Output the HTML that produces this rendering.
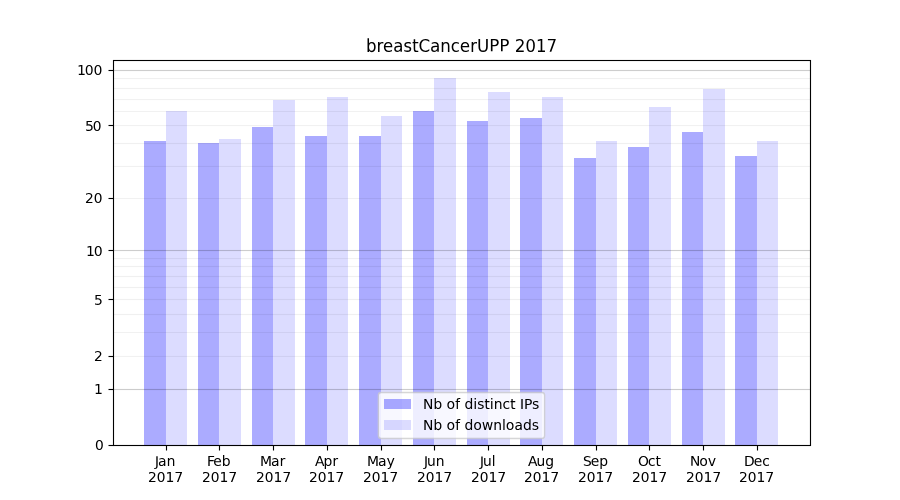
<!DOCTYPE html>
<html><head><meta charset="utf-8"><title>breastCancerUPP 2017</title>
<style>html,body{margin:0;padding:0;background:#fff;width:900px;height:500px;overflow:hidden;font-family:"Liberation Sans",sans-serif}svg{display:block}</style>
</head><body>
<svg width="900" height="500" viewBox="0 0 648 360">
<defs>
<style type="text/css">*{stroke-linejoin: round; stroke-linecap: butt}</style>
</defs>
<g id="figure_1">
<g id="patch_1">
<path d="M 0 360 L 648 360 L 648 0 L 0 0 z" style="fill: #ffffff"/>
</g>
<g id="axes_1">
<g id="patch_2">
<path d="M 81.36 320.4 L 583.2 320.4 L 583.2 43.2 L 81.36 43.2 z" style="fill: #ffffff"/>
</g>
<g id="patch_3">
<path d="M 103.68 320.4 L 119.52 320.4 L 119.52 101.52 L 103.68 101.52 z" clip-path="url(#p42fd4cc68e)" style="fill: #0000ff; opacity: 0.33"/>
</g>
<g id="patch_4">
<path d="M 142.56 320.4 L 157.68 320.4 L 157.68 102.96 L 142.56 102.96 z" clip-path="url(#p42fd4cc68e)" style="fill: #0000ff; opacity: 0.33"/>
</g>
<g id="patch_5">
<path d="M 181.44 320.4 L 196.56 320.4 L 196.56 91.44 L 181.44 91.44 z" clip-path="url(#p42fd4cc68e)" style="fill: #0000ff; opacity: 0.33"/>
</g>
<g id="patch_6">
<path d="M 219.6 320.4 L 235.44 320.4 L 235.44 97.92 L 219.6 97.92 z" clip-path="url(#p42fd4cc68e)" style="fill: #0000ff; opacity: 0.33"/>
</g>
<g id="patch_7">
<path d="M 258.48 320.4 L 274.32 320.4 L 274.32 97.92 L 258.48 97.92 z" clip-path="url(#p42fd4cc68e)" style="fill: #0000ff; opacity: 0.33"/>
</g>
<g id="patch_8">
<path d="M 297.36 320.4 L 312.48 320.4 L 312.48 79.92 L 297.36 79.92 z" clip-path="url(#p42fd4cc68e)" style="fill: #0000ff; opacity: 0.33"/>
</g>
<g id="patch_9">
<path d="M 336.24 320.4 L 351.36 320.4 L 351.36 87.12 L 336.24 87.12 z" clip-path="url(#p42fd4cc68e)" style="fill: #0000ff; opacity: 0.33"/>
</g>
<g id="patch_10">
<path d="M 374.4 320.4 L 390.24 320.4 L 390.24 84.96 L 374.4 84.96 z" clip-path="url(#p42fd4cc68e)" style="fill: #0000ff; opacity: 0.33"/>
</g>
<g id="patch_11">
<path d="M 413.28 320.4 L 429.12 320.4 L 429.12 113.76 L 413.28 113.76 z" clip-path="url(#p42fd4cc68e)" style="fill: #0000ff; opacity: 0.33"/>
</g>
<g id="patch_12">
<path d="M 452.16 320.4 L 467.28 320.4 L 467.28 105.84 L 452.16 105.84 z" clip-path="url(#p42fd4cc68e)" style="fill: #0000ff; opacity: 0.33"/>
</g>
<g id="patch_13">
<path d="M 491.04 320.4 L 506.16 320.4 L 506.16 95.04 L 491.04 95.04 z" clip-path="url(#p42fd4cc68e)" style="fill: #0000ff; opacity: 0.33"/>
</g>
<g id="patch_14">
<path d="M 529.2 320.4 L 545.04 320.4 L 545.04 112.32 L 529.2 112.32 z" clip-path="url(#p42fd4cc68e)" style="fill: #0000ff; opacity: 0.33"/>
</g>
<g id="patch_15">
<path d="M 119.52 320.4 L 134.64 320.4 L 134.64 79.92 L 119.52 79.92 z" clip-path="url(#p42fd4cc68e)" style="fill: #0000ff; opacity: 0.1373"/>
</g>
<g id="patch_16">
<path d="M 157.68 320.4 L 173.52 320.4 L 173.52 100.08 L 157.68 100.08 z" clip-path="url(#p42fd4cc68e)" style="fill: #0000ff; opacity: 0.1373"/>
</g>
<g id="patch_17">
<path d="M 196.56 320.4 L 212.4 320.4 L 212.4 72 L 196.56 72 z" clip-path="url(#p42fd4cc68e)" style="fill: #0000ff; opacity: 0.1373"/>
</g>
<g id="patch_18">
<path d="M 235.44 320.4 L 250.56 320.4 L 250.56 69.84 L 235.44 69.84 z" clip-path="url(#p42fd4cc68e)" style="fill: #0000ff; opacity: 0.1373"/>
</g>
<g id="patch_19">
<path d="M 274.32 320.4 L 289.44 320.4 L 289.44 83.52 L 274.32 83.52 z" clip-path="url(#p42fd4cc68e)" style="fill: #0000ff; opacity: 0.1373"/>
</g>
<g id="patch_20">
<path d="M 312.48 320.4 L 328.32 320.4 L 328.32 56.16 L 312.48 56.16 z" clip-path="url(#p42fd4cc68e)" style="fill: #0000ff; opacity: 0.1373"/>
</g>
<g id="patch_21">
<path d="M 351.36 320.4 L 367.2 320.4 L 367.2 66.24 L 351.36 66.24 z" clip-path="url(#p42fd4cc68e)" style="fill: #0000ff; opacity: 0.1373"/>
</g>
<g id="patch_22">
<path d="M 390.24 320.4 L 405.36 320.4 L 405.36 69.84 L 390.24 69.84 z" clip-path="url(#p42fd4cc68e)" style="fill: #0000ff; opacity: 0.1373"/>
</g>
<g id="patch_23">
<path d="M 429.12 320.4 L 444.24 320.4 L 444.24 101.52 L 429.12 101.52 z" clip-path="url(#p42fd4cc68e)" style="fill: #0000ff; opacity: 0.1373"/>
</g>
<g id="patch_24">
<path d="M 467.28 320.4 L 483.12 320.4 L 483.12 77.04 L 467.28 77.04 z" clip-path="url(#p42fd4cc68e)" style="fill: #0000ff; opacity: 0.1373"/>
</g>
<g id="patch_25">
<path d="M 506.16 320.4 L 522 320.4 L 522 64.08 L 506.16 64.08 z" clip-path="url(#p42fd4cc68e)" style="fill: #0000ff; opacity: 0.1373"/>
</g>
<g id="patch_26">
<path d="M 545.04 320.4 L 560.16 320.4 L 560.16 101.52 L 545.04 101.52 z" clip-path="url(#p42fd4cc68e)" style="fill: #0000ff; opacity: 0.1373"/>
</g>
<g id="matplotlib.axis_1">
<g id="xtick_1">
<g id="line2d_1">
<defs>
<path id="m2740763886" d="M 0 0 L 0 3.6" style="stroke: #000000; stroke-width: 0.72"/>
</defs>
<g>
<use href="#m2740763886" x="119.88" y="320.76" style="stroke: #000000; stroke-width: 0.8"/>
<use href="#m2740763886" x="120.6" y="320.76" opacity="0.0556"/>
<use href="#m2740763886" x="119.16" y="320.76" opacity="0.0556"/>
</g>
</g>
<g id="text_1">
<g transform="translate(110.875577 335.538438) scale(0.1 -0.1)">
<defs>
<path id="DejaVuSans-4a" d="M 628 4666 
L 1259 4666 
L 1259 325 
Q 1259 -519 939 -900 
Q 619 -1281 -91 -1281 
L -331 -1281 
L -331 -750 
L -134 -750 
Q 284 -750 456 -515 
Q 628 -281 628 325 
L 628 4666 
z
" transform="scale(0.015625)"/>
<path id="DejaVuSans-61" d="M 2194 1759 
Q 1497 1759 1228 1600 
Q 959 1441 959 1056 
Q 959 750 1161 570 
Q 1363 391 1709 391 
Q 2188 391 2477 730 
Q 2766 1069 2766 1631 
L 2766 1759 
L 2194 1759 
z
M 3341 1997 
L 3341 0 
L 2766 0 
L 2766 531 
Q 2569 213 2275 61 
Q 1981 -91 1556 -91 
Q 1019 -91 701 211 
Q 384 513 384 1019 
Q 384 1609 779 1909 
Q 1175 2209 1959 2209 
L 2766 2209 
L 2766 2266 
Q 2766 2663 2505 2880 
Q 2244 3097 1772 3097 
Q 1472 3097 1187 3025 
Q 903 2953 641 2809 
L 641 3341 
Q 956 3463 1253 3523 
Q 1550 3584 1831 3584 
Q 2591 3584 2966 3190 
Q 3341 2797 3341 1997 
z
" transform="scale(0.015625)"/>
<path id="DejaVuSans-6e" d="M 3513 2113 
L 3513 0 
L 2938 0 
L 2938 2094 
Q 2938 2591 2744 2837 
Q 2550 3084 2163 3084 
Q 1697 3084 1428 2787 
Q 1159 2491 1159 1978 
L 1159 0 
L 581 0 
L 581 3500 
L 1159 3500 
L 1159 2956 
Q 1366 3272 1645 3428 
Q 1925 3584 2291 3584 
Q 2894 3584 3203 3211 
Q 3513 2838 3513 2113 
z
" transform="scale(0.015625)"/>
</defs>
<use href="#DejaVuSans-4a" transform="translate(6.75 -2.25) scale(1 0.985)"/>
<use href="#DejaVuSans-61" transform="translate(29.2672 0.9) scale(1 1.0113)"/>
<use href="#DejaVuSans-6e" transform="translate(90.9965 0.9) scale(1 1.0263)"/>
</g>
<g transform="translate(106.39839 347.09625) scale(0.1 -0.1)">
<defs>
<path id="DejaVuSans-32" d="M 1228 531 
L 3431 531 
L 3431 0 
L 469 0 
L 469 531 
Q 828 903 1448 1529 
Q 2069 2156 2228 2338 
Q 2531 2678 2651 2914 
Q 2772 3150 2772 3378 
Q 2772 3750 2511 3984 
Q 2250 4219 1831 4219 
Q 1534 4219 1204 4116 
Q 875 4013 500 3803 
L 500 4441 
Q 881 4594 1212 4672 
Q 1544 4750 1819 4750 
Q 2544 4750 2975 4387 
Q 3406 4025 3406 3419 
Q 3406 3131 3298 2873 
Q 3191 2616 2906 2266 
Q 2828 2175 2409 1742 
Q 1991 1309 1228 531 
z
" transform="scale(0.015625)"/>
<path id="DejaVuSans-30" d="M 2034 4250 
Q 1547 4250 1301 3770 
Q 1056 3291 1056 2328 
Q 1056 1369 1301 889 
Q 1547 409 2034 409 
Q 2525 409 2770 889 
Q 3016 1369 3016 2328 
Q 3016 3291 2770 3770 
Q 2525 4250 2034 4250 
z
M 2034 4750 
Q 2819 4750 3233 4129 
Q 3647 3509 3647 2328 
Q 3647 1150 3233 529 
Q 2819 -91 2034 -91 
Q 1250 -91 836 529 
Q 422 1150 422 2328 
Q 422 3509 836 4129 
Q 1250 4750 2034 4750 
z
" transform="scale(0.015625)"/>
<path id="DejaVuSans-31" d="M 794 531 
L 1825 531 
L 1825 4091 
L 703 3866 
L 703 4441 
L 1819 4666 
L 2450 4666 
L 2450 531 
L 3481 531 
L 3481 0 
L 794 0 
L 794 531 
z
" transform="scale(0.015625)"/>
<path id="DejaVuSans-37" d="M 525 4666 
L 3525 4666 
L 3525 4397 
L 1831 0 
L 1172 0 
L 2766 4134 
L 525 4134 
L 525 4666 
z
" transform="scale(0.015625)"/>
</defs>
<use href="#DejaVuSans-32" transform="translate(1.35 -0.225) scale(1 0.985)"/>
<use href="#DejaVuSans-30" transform="translate(64.073 1.8) scale(1 0.9625)"/>
<use href="#DejaVuSans-31" transform="translate(127.9211 1.35) scale(1 0.9662)"/>
<use href="#DejaVuSans-37" transform="translate(191.5441 1.35) scale(1 0.9775)"/>
</g>
</g>
</g>
<g id="xtick_2">
<g id="line2d_2">
<g>
<use href="#m2740763886" x="158.04" y="320.76" style="stroke: #000000; stroke-width: 0.8"/>
<use href="#m2740763886" x="158.76" y="320.76" opacity="0.0556"/>
<use href="#m2740763886" x="157.32" y="320.76" opacity="0.0556"/>
</g>
</g>
<g id="text_2">
<g transform="translate(148.24212 335.358438) scale(0.1 -0.1)">
<defs>
<path id="DejaVuSans-46" d="M 628 4666 
L 3309 4666 
L 3309 4134 
L 1259 4134 
L 1259 2759 
L 3109 2759 
L 3109 2228 
L 1259 2228 
L 1259 0 
L 628 0 
L 628 4666 
z
" transform="scale(0.015625)"/>
<path id="DejaVuSans-65" d="M 3597 1894 
L 3597 1613 
L 953 1613 
Q 991 1019 1311 708 
Q 1631 397 2203 397 
Q 2534 397 2845 478 
Q 3156 559 3463 722 
L 3463 178 
Q 3153 47 2828 -22 
Q 2503 -91 2169 -91 
Q 1331 -91 842 396 
Q 353 884 353 1716 
Q 353 2575 817 3079 
Q 1281 3584 2069 3584 
Q 2775 3584 3186 3129 
Q 3597 2675 3597 1894 
z
M 3022 2063 
Q 3016 2534 2758 2815 
Q 2500 3097 2075 3097 
Q 1594 3097 1305 2825 
Q 1016 2553 972 2059 
L 3022 2063 
z
" transform="scale(0.015625)"/>
<path id="DejaVuSans-62" d="M 3116 1747 
Q 3116 2381 2855 2742 
Q 2594 3103 2138 3103 
Q 1681 3103 1420 2742 
Q 1159 2381 1159 1747 
Q 1159 1113 1420 752 
Q 1681 391 2138 391 
Q 2594 391 2855 752 
Q 3116 1113 3116 1747 
z
M 1159 2969 
Q 1341 3281 1617 3432 
Q 1894 3584 2278 3584 
Q 2916 3584 3314 3078 
Q 3713 2572 3713 1747 
Q 3713 922 3314 415 
Q 2916 -91 2278 -91 
Q 1894 -91 1617 61 
Q 1341 213 1159 525 
L 1159 0 
L 581 0 
L 581 4863 
L 1159 4863 
L 1159 2969 
z
" transform="scale(0.015625)"/>
</defs>
<use href="#DejaVuSans-46" transform="translate(7.65 -1.575) scale(1 0.9925)"/>
<use href="#DejaVuSans-65" transform="translate(52.9195 -0.225) scale(1 1.0113)"/>
<use href="#DejaVuSans-62" transform="translate(114.218 -0.9) scale(1 1.0225)"/>
</g>
<g transform="translate(145.268683 347.09625) scale(0.1 -0.1)">
<use href="#DejaVuSans-32" transform="translate(1.35 -0.225) scale(1 0.985)"/>
<use href="#DejaVuSans-30" transform="translate(64.298 2.25) scale(1 0.9587)"/>
<use href="#DejaVuSans-31" transform="translate(127.9211 1.35) scale(1 0.9662)"/>
<use href="#DejaVuSans-37" transform="translate(191.5441 1.35) scale(1 0.9775)"/>
</g>
</g>
</g>
<g id="xtick_3">
<g id="line2d_3">
<g>
<use href="#m2740763886" x="196.92" y="320.76" style="stroke: #000000; stroke-width: 0.8"/>
<use href="#m2740763886" x="197.64" y="320.76" opacity="0.0556"/>
<use href="#m2740763886" x="196.2" y="320.76" opacity="0.0556"/>
</g>
</g>
<g id="text_3">
<g transform="translate(187.070382 335.358438) scale(0.1 -0.1)">
<defs>
<path id="DejaVuSans-4d" d="M 628 4666 
L 1569 4666 
L 2759 1491 
L 3956 4666 
L 4897 4666 
L 4897 0 
L 4281 0 
L 4281 4097 
L 3078 897 
L 2444 897 
L 1241 4097 
L 1241 0 
L 628 0 
L 628 4666 
z
" transform="scale(0.015625)"/>
<path id="DejaVuSans-72" d="M 2631 2963 
Q 2534 3019 2420 3045 
Q 2306 3072 2169 3072 
Q 1681 3072 1420 2755 
Q 1159 2438 1159 1844 
L 1159 0 
L 581 0 
L 581 3500 
L 1159 3500 
L 1159 2956 
Q 1341 3275 1631 3429 
Q 1922 3584 2338 3584 
Q 2397 3584 2469 3576 
Q 2541 3569 2628 3553 
L 2631 2963 
z
" transform="scale(0.015625)"/>
</defs>
<use href="#DejaVuSans-4d" transform="translate(1.35 -0.9) scale(1 0.97)"/>
<use href="#DejaVuSans-61" transform="translate(80.8793 -0.9) scale(1 1.0113)"/>
<use href="#DejaVuSans-72" transform="translate(142.6086 -2.025) scale(1 1.045)"/>
</g>
<g transform="translate(184.318975 347.09625) scale(0.1 -0.1)">
<use href="#DejaVuSans-32" transform="translate(-0.225 -0.225) scale(1 0.985)"/>
<use href="#DejaVuSans-30" transform="translate(62.498 2.475) scale(1 0.9513)"/>
<use href="#DejaVuSans-31" transform="translate(126.1211 1.35) scale(1 0.9775)"/>
<use href="#DejaVuSans-37" transform="translate(189.9691 0)"/>
</g>
</g>
</g>
<g id="xtick_4">
<g id="line2d_4">
<g>
<use href="#m2740763886" x="235.8" y="320.76" style="stroke: #000000; stroke-width: 0.8"/>
<use href="#m2740763886" x="236.52" y="320.76" opacity="0.0556"/>
<use href="#m2740763886" x="235.08" y="320.76" opacity="0.0556"/>
</g>
</g>
<g id="text_4">
<g transform="translate(226.184268 335.358438) scale(0.1 -0.1)">
<defs>
<path id="DejaVuSans-41" d="M 2188 4044 
L 1331 1722 
L 3047 1722 
L 2188 4044 
z
M 1831 4666 
L 2547 4666 
L 4325 0 
L 3669 0 
L 3244 1197 
L 1141 1197 
L 716 0 
L 50 0 
L 1831 4666 
z
" transform="scale(0.015625)"/>
<path id="DejaVuSans-70" d="M 1159 525 
L 1159 -1331 
L 581 -1331 
L 581 3500 
L 1159 3500 
L 1159 2969 
Q 1341 3281 1617 3432 
Q 1894 3584 2278 3584 
Q 2916 3584 3314 3078 
Q 3713 2572 3713 1747 
Q 3713 922 3314 415 
Q 2916 -91 2278 -91 
Q 1894 -91 1617 61 
Q 1341 213 1159 525 
z
M 3116 1747 
Q 3116 2381 2855 2742 
Q 2594 3103 2138 3103 
Q 1681 3103 1420 2742 
Q 1159 2381 1159 1747 
Q 1159 1113 1420 752 
Q 1681 391 2138 391 
Q 2594 391 2855 752 
Q 3116 1113 3116 1747 
z
" transform="scale(0.015625)"/>
</defs>
<use href="#DejaVuSans-41" transform="translate(6.075 -0.9) scale(1 0.9775)"/>
<use href="#DejaVuSans-70" transform="translate(67.2832 -0.9) scale(1 1.03)"/>
<use href="#DejaVuSans-72" transform="translate(131.4348 -2.25) scale(1 1.0525)"/>
</g>
<g transform="translate(222.469268 347.09625) scale(0.1 -0.1)">
<use href="#DejaVuSans-32" transform="translate(-0.225 -0.225) scale(1 0.985)"/>
<use href="#DejaVuSans-30" transform="translate(62.723 1.35) scale(1 0.97)"/>
<use href="#DejaVuSans-31" transform="translate(126.3461 0.9) scale(1 0.985)"/>
<use href="#DejaVuSans-37" transform="translate(189.9691 0)"/>
</g>
</g>
</g>
<g id="xtick_5">
<g id="line2d_5">
<g>
<use href="#m2740763886" x="274.68" y="320.76" style="stroke: #000000; stroke-width: 0.8"/>
<use href="#m2740763886" x="275.4" y="320.76" opacity="0.0556"/>
<use href="#m2740763886" x="273.96" y="320.76" opacity="0.0556"/>
</g>
</g>
<g id="text_5">
<g transform="translate(263.727061 335.538438) scale(0.1 -0.1)">
<defs>
<path id="DejaVuSans-79" d="M 2059 -325 
Q 1816 -950 1584 -1140 
Q 1353 -1331 966 -1331 
L 506 -1331 
L 506 -850 
L 844 -850 
Q 1081 -850 1212 -737 
Q 1344 -625 1503 -206 
L 1606 56 
L 191 3500 
L 800 3500 
L 1894 763 
L 2988 3500 
L 3597 3500 
L 2059 -325 
z
" transform="scale(0.015625)"/>
</defs>
<use href="#DejaVuSans-4d" transform="translate(5.175 0.9) scale(1 0.9662)"/>
<use href="#DejaVuSans-61" transform="translate(84.7043 0.9) scale(1 1.0113)"/>
<use href="#DejaVuSans-79" transform="translate(146.4336 0.225) scale(1 1.0375)"/>
</g>
<g transform="translate(261.339561 347.09625) scale(0.1 -0.1)">
<use href="#DejaVuSans-32" transform="translate(0 -0.225) scale(1 0.985)"/>
<use href="#DejaVuSans-30" transform="translate(62.723 1.8) scale(1 0.9625)"/>
<use href="#DejaVuSans-31" transform="translate(126.3461 0.9) scale(1 0.985)"/>
<use href="#DejaVuSans-37" transform="translate(190.4191 3.15) scale(1 0.955)"/>
</g>
</g>
</g>
<g id="xtick_6">
<g id="line2d_6">
<g>
<use href="#m2740763886" x="312.84" y="320.76" style="stroke: #000000; stroke-width: 0.8"/>
<use href="#m2740763886" x="313.56" y="320.76" opacity="0.0556"/>
<use href="#m2740763886" x="312.12" y="320.76" opacity="0.0556"/>
</g>
</g>
<g id="text_6">
<g transform="translate(304.402354 335.538438) scale(0.1 -0.1)">
<defs>
<path id="DejaVuSans-75" d="M 544 1381 
L 544 3500 
L 1119 3500 
L 1119 1403 
Q 1119 906 1312 657 
Q 1506 409 1894 409 
Q 2359 409 2629 706 
Q 2900 1003 2900 1516 
L 2900 3500 
L 3475 3500 
L 3475 0 
L 2900 0 
L 2900 538 
Q 2691 219 2414 64 
Q 2138 -91 1772 -91 
Q 1169 -91 856 284 
Q 544 659 544 1381 
z
M 1991 3584 
L 1991 3584 
z
" transform="scale(0.015625)"/>
</defs>
<use href="#DejaVuSans-4a" transform="translate(8.55 -2.25) scale(1 0.985)"/>
<use href="#DejaVuSans-75" transform="translate(30.1672 1.8) scale(1 1.0075)"/>
<use href="#DejaVuSans-6e" transform="translate(93.3211 0.9) scale(1 1.03)"/>
</g>
<g transform="translate(300.209854 347.09625) scale(0.1 -0.1)">
<use href="#DejaVuSans-32" transform="translate(0 -0.225) scale(1 0.985)"/>
<use href="#DejaVuSans-30" transform="translate(62.723 1.8) scale(1 0.955)"/>
<use href="#DejaVuSans-31" transform="translate(126.5711 1.35) scale(1 0.9775)"/>
<use href="#DejaVuSans-37" transform="translate(190.1941 1.35) scale(1 0.9775)"/>
</g>
</g>
</g>
<g id="xtick_7">
<g id="line2d_7">
<g>
<use href="#m2740763886" x="351.72" y="320.76" style="stroke: #000000; stroke-width: 0.8"/>
<use href="#m2740763886" x="352.44" y="320.76" opacity="0.0556"/>
<use href="#m2740763886" x="351" y="320.76" opacity="0.0556"/>
</g>
</g>
<g id="text_7">
<g transform="translate(344.872334 335.538438) scale(0.1 -0.1)">
<defs>
<path id="DejaVuSans-6c" d="M 603 4863 
L 1178 4863 
L 1178 0 
L 603 0 
L 603 4863 
z
" transform="scale(0.015625)"/>
</defs>
<use href="#DejaVuSans-4a" transform="translate(6.75 -2.25) scale(1 0.9625)"/>
<use href="#DejaVuSans-75" transform="translate(28.5922 1.8) scale(1 1.0075)"/>
<use href="#DejaVuSans-6c" transform="translate(91.5211 0.9) scale(1 1.0225)"/>
</g>
<g transform="translate(339.080146 347.09625) scale(0.1 -0.1)">
<use href="#DejaVuSans-32" transform="translate(0 -0.225) scale(1 0.985)"/>
<use href="#DejaVuSans-30" transform="translate(62.948 2.7) scale(1 0.9362)"/>
<use href="#DejaVuSans-31" transform="translate(126.5711 1.35) scale(1 0.9775)"/>
<use href="#DejaVuSans-37" transform="translate(190.1941 1.35) scale(1 0.9775)"/>
</g>
</g>
</g>
<g id="xtick_8">
<g id="line2d_8">
<g>
<use href="#m2740763886" x="390.6" y="320.76" style="stroke: #000000; stroke-width: 0.8"/>
<use href="#m2740763886" x="391.32" y="320.76" opacity="0.0556"/>
<use href="#m2740763886" x="389.88" y="320.76" opacity="0.0556"/>
</g>
</g>
<g id="text_8">
<g transform="translate(379.472158 335.538438) scale(0.1 -0.1)">
<defs>
<path id="DejaVuSans-67" d="M 2906 1791 
Q 2906 2416 2648 2759 
Q 2391 3103 1925 3103 
Q 1463 3103 1205 2759 
Q 947 2416 947 1791 
Q 947 1169 1205 825 
Q 1463 481 1925 481 
Q 2391 481 2648 825 
Q 2906 1169 2906 1791 
z
M 3481 434 
Q 3481 -459 3084 -895 
Q 2688 -1331 1869 -1331 
Q 1566 -1331 1297 -1286 
Q 1028 -1241 775 -1147 
L 775 -588 
Q 1028 -725 1275 -790 
Q 1522 -856 1778 -856 
Q 2344 -856 2625 -561 
Q 2906 -266 2906 331 
L 2906 616 
Q 2728 306 2450 153 
Q 2172 0 1784 0 
Q 1141 0 747 490 
Q 353 981 353 1791 
Q 353 2603 747 3093 
Q 1141 3584 1784 3584 
Q 2172 3584 2450 3431 
Q 2728 3278 2906 2969 
L 2906 3500 
L 3481 3500 
L 3481 434 
z
" transform="scale(0.015625)"/>
</defs>
<use href="#DejaVuSans-41" transform="translate(6.75 0.9) scale(1 0.9775)"/>
<use href="#DejaVuSans-75" transform="translate(67.7332 1.35) scale(1 1.0375)"/>
<use href="#DejaVuSans-67" transform="translate(131.1121 0) scale(1 1.0413)"/>
</g>
<g transform="translate(377.230439 347.09625) scale(0.1 -0.1)">
<use href="#DejaVuSans-32" transform="translate(0.225 -0.225) scale(1 0.985)"/>
<use href="#DejaVuSans-30" transform="translate(62.948 2.475) scale(1 0.94)"/>
<use href="#DejaVuSans-31" transform="translate(126.7961 1.35) scale(1 0.97)"/>
<use href="#DejaVuSans-37" transform="translate(190.4191 0.9) scale(1 0.985)"/>
</g>
</g>
</g>
<g id="xtick_9">
<g id="line2d_9">
<g>
<use href="#m2740763886" x="429.48" y="320.76" style="stroke: #000000; stroke-width: 0.8"/>
<use href="#m2740763886" x="430.2" y="320.76" opacity="0.0556"/>
<use href="#m2740763886" x="428.76" y="320.76" opacity="0.0556"/>
</g>
</g>
<g id="text_9">
<g transform="translate(419.040732 335.358438) scale(0.1 -0.1)">
<defs>
<path id="DejaVuSans-53" d="M 3425 4513 
L 3425 3897 
Q 3066 4069 2747 4153 
Q 2428 4238 2131 4238 
Q 1616 4238 1336 4038 
Q 1056 3838 1056 3469 
Q 1056 3159 1242 3001 
Q 1428 2844 1947 2747 
L 2328 2669 
Q 3034 2534 3370 2195 
Q 3706 1856 3706 1288 
Q 3706 609 3251 259 
Q 2797 -91 1919 -91 
Q 1588 -91 1214 -16 
Q 841 59 441 206 
L 441 856 
Q 825 641 1194 531 
Q 1563 422 1919 422 
Q 2459 422 2753 634 
Q 3047 847 3047 1241 
Q 3047 1584 2836 1778 
Q 2625 1972 2144 2069 
L 1759 2144 
Q 1053 2284 737 2584 
Q 422 2884 422 3419 
Q 422 4038 858 4394 
Q 1294 4750 2059 4750 
Q 2388 4750 2728 4690 
Q 3069 4631 3425 4513 
z
" transform="scale(0.015625)"/>
</defs>
<use href="#DejaVuSans-53" transform="translate(6.75 0) scale(1 0.9475)"/>
<use href="#DejaVuSans-65" transform="translate(63.0266 -0.225) scale(1 1.0113)"/>
<use href="#DejaVuSans-70" transform="translate(124.1 -0.9) scale(1 1.03)"/>
</g>
<g transform="translate(416.100732 347.09625) scale(0.1 -0.1)">
<use href="#DejaVuSans-32" transform="translate(0.225 -0.225) scale(1 0.985)"/>
<use href="#DejaVuSans-30" transform="translate(63.173 1.125) scale(1 0.9738)"/>
<use href="#DejaVuSans-31" transform="translate(126.7961 1.35) scale(1 0.97)"/>
<use href="#DejaVuSans-37" transform="translate(190.4191 0.9) scale(1 0.985)"/>
</g>
</g>
</g>
<g id="xtick_10">
<g id="line2d_10">
<g>
<use href="#m2740763886" x="467.64" y="320.76" style="stroke: #000000; stroke-width: 0.8"/>
<use href="#m2740763886" x="468.36" y="320.76" opacity="0.0556"/>
<use href="#m2740763886" x="466.92" y="320.76" opacity="0.0556"/>
</g>
</g>
<g id="text_10">
<g transform="translate(458.690712 335.358438) scale(0.1 -0.1)">
<defs>
<path id="DejaVuSans-4f" d="M 2522 4238 
Q 1834 4238 1429 3725 
Q 1025 3213 1025 2328 
Q 1025 1447 1429 934 
Q 1834 422 2522 422 
Q 3209 422 3611 934 
Q 4013 1447 4013 2328 
Q 4013 3213 3611 3725 
Q 3209 4238 2522 4238 
z
M 2522 4750 
Q 3503 4750 4090 4092 
Q 4678 3434 4678 2328 
Q 4678 1225 4090 567 
Q 3503 -91 2522 -91 
Q 1538 -91 948 565 
Q 359 1222 359 2328 
Q 359 3434 948 4092 
Q 1538 4750 2522 4750 
z
" transform="scale(0.015625)"/>
<path id="DejaVuSans-63" d="M 3122 3366 
L 3122 2828 
Q 2878 2963 2633 3030 
Q 2388 3097 2138 3097 
Q 1578 3097 1268 2742 
Q 959 2388 959 1747 
Q 959 1106 1268 751 
Q 1578 397 2138 397 
Q 2388 397 2633 464 
Q 2878 531 3122 666 
L 3122 134 
Q 2881 22 2623 -34 
Q 2366 -91 2075 -91 
Q 1284 -91 818 406 
Q 353 903 353 1747 
Q 353 2603 823 3093 
Q 1294 3584 2113 3584 
Q 2378 3584 2631 3529 
Q 2884 3475 3122 3366 
z
" transform="scale(0.015625)"/>
<path id="DejaVuSans-74" d="M 1172 4494 
L 1172 3500 
L 2356 3500 
L 2356 3053 
L 1172 3053 
L 1172 1153 
Q 1172 725 1289 603 
Q 1406 481 1766 481 
L 2356 481 
L 2356 0 
L 1766 0 
Q 1100 0 847 248 
Q 594 497 594 1153 
L 594 3053 
L 172 3053 
L 172 3500 
L 594 3500 
L 594 4494 
L 1172 4494 
z
" transform="scale(0.015625)"/>
</defs>
<use href="#DejaVuSans-4f" transform="translate(6.525 -0.225) scale(1 0.9475)"/>
<use href="#DejaVuSans-63" transform="translate(77.8109 0) scale(1 1.0075)"/>
<use href="#DejaVuSans-74" transform="translate(132.7914 -1.35) scale(1 1.0337)"/>
</g>
<g transform="translate(454.971025 347.09625) scale(0.1 -0.1)">
<use href="#DejaVuSans-32" transform="translate(0.45 -0.225) scale(1 0.985)"/>
<use href="#DejaVuSans-30" transform="translate(63.173 2.25) scale(1 0.955)"/>
<use href="#DejaVuSans-31" transform="translate(126.7961 1.35) scale(1 0.97)"/>
<use href="#DejaVuSans-37" transform="translate(190.6441 1.35) scale(1 0.9775)"/>
</g>
</g>
</g>
<g id="xtick_11">
<g id="line2d_11">
<g>
<use href="#m2740763886" x="506.52" y="320.76" style="stroke: #000000; stroke-width: 0.8"/>
<use href="#m2740763886" x="507.24" y="320.76" opacity="0.0556"/>
<use href="#m2740763886" x="505.8" y="320.76" opacity="0.0556"/>
</g>
</g>
<g id="text_11">
<g transform="translate(496.086942 335.358438) scale(0.1 -0.1)">
<defs>
<path id="DejaVuSans-4e" d="M 628 4666 
L 1478 4666 
L 3547 763 
L 3547 4666 
L 4159 4666 
L 4159 0 
L 3309 0 
L 1241 3903 
L 1241 0 
L 628 0 
L 628 4666 
z
" transform="scale(0.015625)"/>
<path id="DejaVuSans-6f" d="M 1959 3097 
Q 1497 3097 1228 2736 
Q 959 2375 959 1747 
Q 959 1119 1226 758 
Q 1494 397 1959 397 
Q 2419 397 2687 759 
Q 2956 1122 2956 1747 
Q 2956 2369 2687 2733 
Q 2419 3097 1959 3097 
z
M 1959 3584 
Q 2709 3584 3137 3096 
Q 3566 2609 3566 1747 
Q 3566 888 3137 398 
Q 2709 -91 1959 -91 
Q 1206 -91 779 398 
Q 353 888 353 1747 
Q 353 2609 779 3096 
Q 1206 3584 1959 3584 
z
" transform="scale(0.015625)"/>
<path id="DejaVuSans-76" d="M 191 3500 
L 800 3500 
L 1894 563 
L 2988 3500 
L 3597 3500 
L 2284 0 
L 1503 0 
L 191 3500 
z
" transform="scale(0.015625)"/>
</defs>
<use href="#DejaVuSans-4e" transform="translate(6.75 0.45) scale(1 0.9475)"/>
<use href="#DejaVuSans-6f" transform="translate(74.3547 -0.45)"/>
<use href="#DejaVuSans-76" transform="translate(135.7613 -1.35) scale(1 1.0525)"/>
</g>
<g transform="translate(493.841317 347.09625) scale(0.1 -0.1)">
<use href="#DejaVuSans-32" transform="translate(0.45 -0.225) scale(1 0.985)"/>
<use href="#DejaVuSans-30" transform="translate(63.398 1.575) scale(1 0.9662)"/>
<use href="#DejaVuSans-31" transform="translate(127.0211 1.35) scale(1 0.9662)"/>
<use href="#DejaVuSans-37" transform="translate(190.6441 0.45) scale(1 0.9925)"/>
</g>
</g>
</g>
<g id="xtick_12">
<g id="line2d_12">
<g>
<use href="#m2740763886" x="545.4" y="320.76" style="stroke: #000000; stroke-width: 0.8"/>
<use href="#m2740763886" x="546.12" y="320.76" opacity="0.0556"/>
<use href="#m2740763886" x="544.68" y="320.76" opacity="0.0556"/>
</g>
</g>
<g id="text_12">
<g transform="translate(535.040829 335.358438) scale(0.1 -0.1)">
<defs>
<path id="DejaVuSans-44" d="M 1259 4147 
L 1259 519 
L 2022 519 
Q 2988 519 3436 956 
Q 3884 1394 3884 2338 
Q 3884 3275 3436 3711 
Q 2988 4147 2022 4147 
L 1259 4147 
z
M 628 4666 
L 1925 4666 
Q 3281 4666 3915 4102 
Q 4550 3538 4550 2338 
Q 4550 1131 3912 565 
Q 3275 0 1925 0 
L 628 0 
L 628 4666 
z
" transform="scale(0.015625)"/>
</defs>
<use href="#DejaVuSans-44" transform="translate(6.3 -2.25) scale(1 1.0075)"/>
<use href="#DejaVuSans-65" transform="translate(76.552 -0.225) scale(1 1.0113)"/>
<use href="#DejaVuSans-63" transform="translate(137.6254 0) scale(1 1.0075)"/>
</g>
<g transform="translate(531.99161 347.09625) scale(0.1 -0.1)">
<use href="#DejaVuSans-32" transform="translate(0.675 -0.225) scale(1 0.985)"/>
<use href="#DejaVuSans-30" transform="translate(63.398 1.125) scale(1 0.9738)"/>
<use href="#DejaVuSans-31" transform="translate(127.0211 1.35) scale(1 0.9775)"/>
<use href="#DejaVuSans-37" transform="translate(190.6441 1.35) scale(1 0.9775)"/>
</g>
</g>
</g>
</g>
<g id="matplotlib.axis_2">
<g id="ytick_1">
<g id="line2d_13">
<defs>
<path id="m25036831dc" d="M 0 0 L -3.6 0" style="stroke: #000000; stroke-width: 0.72"/>
</defs>
<g>
<use href="#m25036831dc" x="81.72" y="320.76" style="stroke: #000000; stroke-width: 0.8"/>
<use href="#m25036831dc" x="81.72" y="321.48" opacity="0.0556"/>
<use href="#m25036831dc" x="81.72" y="320.04" opacity="0.0556"/>
</g>
</g>
<g id="text_13">
<g transform="translate(68.3575 324.019219) scale(0.1 -0.1)">
<use href="#DejaVuSans-30" transform="translate(0 0.9) scale(1 0.97)"/>
</g>
</g>
</g>
<g id="ytick_2">
<g id="line2d_14">
<g>
<use href="#m25036831dc" x="81.72" y="280.44" style="stroke: #000000; stroke-width: 0.8"/>
<use href="#m25036831dc" x="81.72" y="281.16" opacity="0.0556"/>
<use href="#m25036831dc" x="81.72" y="279.72" opacity="0.0556"/>
</g>
</g>
<g id="text_14">
<g transform="translate(67.6375 283.632481) scale(0.1 -0.1)">
<use href="#DejaVuSans-31" transform="translate(0.675 0.225) scale(1 0.9662)"/>
</g>
</g>
</g>
<g id="ytick_3">
<g id="line2d_15">
<g>
<use href="#m25036831dc" x="81.72" y="256.68" style="stroke: #000000; stroke-width: 0.8"/>
<use href="#m25036831dc" x="81.72" y="257.4" opacity="0.0556"/>
<use href="#m25036831dc" x="81.72" y="255.96" opacity="0.0556"/>
</g>
</g>
<g id="text_15">
<g transform="translate(67.6375 260.08246) scale(0.1 -0.1)">
<use href="#DejaVuSans-32" transform="translate(0 0.9) scale(1 0.9813)"/>
</g>
</g>
</g>
<g id="ytick_4">
<g id="line2d_16">
<g>
<use href="#m25036831dc" x="81.72" y="215.64" style="stroke: #000000; stroke-width: 0.8"/>
<use href="#m25036831dc" x="81.72" y="216.36" opacity="0.0556"/>
<use href="#m25036831dc" x="81.72" y="214.92" opacity="0.0556"/>
</g>
</g>
<g id="text_16">
<g transform="translate(67.6375 219.515722) scale(0.1 -0.1)">
<defs>
<path id="DejaVuSans-35" d="M 691 4666 
L 3169 4666 
L 3169 4134 
L 1269 4134 
L 1269 2991 
Q 1406 3038 1543 3061 
Q 1681 3084 1819 3084 
Q 2600 3084 3056 2656 
Q 3513 2228 3513 1497 
Q 3513 744 3044 326 
Q 2575 -91 1722 -91 
Q 1428 -91 1123 -41 
Q 819 9 494 109 
L 494 744 
Q 775 591 1075 516 
Q 1375 441 1709 441 
Q 2250 441 2565 725 
Q 2881 1009 2881 1497 
Q 2881 1984 2565 2268 
Q 2250 2553 1709 2553 
Q 1456 2553 1204 2497 
Q 953 2441 691 2322 
L 691 4666 
z
" transform="scale(0.015625)"/>
</defs>
<use href="#DejaVuSans-35" transform="translate(0.45 1.125) scale(1 0.9662)"/>
</g>
</g>
</g>
<g id="ytick_5">
<g id="line2d_17">
<g>
<use href="#m25036831dc" x="81.72" y="180.36" style="stroke: #000000; stroke-width: 0.8"/>
<use href="#m25036831dc" x="81.72" y="181.08" opacity="0.0556"/>
<use href="#m25036831dc" x="81.72" y="179.64" opacity="0.0556"/>
</g>
</g>
<g id="text_17">
<g transform="translate(61.275 184.401363) scale(0.1 -0.1)">
<use href="#DejaVuSans-31" transform="translate(6.525 1.575) scale(1 0.9662)"/>
<use href="#DejaVuSans-30" transform="translate(62.723 2.25) scale(1 0.9625)"/>
</g>
</g>
</g>
<g id="ytick_6">
<g id="line2d_18">
<g>
<use href="#m25036831dc" x="81.72" y="142.92" style="stroke: #000000; stroke-width: 0.8"/>
<use href="#m25036831dc" x="81.72" y="143.64" opacity="0.0556"/>
<use href="#m25036831dc" x="81.72" y="142.2" opacity="0.0556"/>
</g>
</g>
<g id="text_18">
<g transform="translate(61.095 146.197229) scale(0.1 -0.1)">
<use href="#DejaVuSans-32" transform="translate(0.675 -0.45) scale(1 0.985)"/>
<use href="#DejaVuSans-30" transform="translate(63.623 0.9) scale(1 0.97)"/>
</g>
</g>
</g>
<g id="ytick_7">
<g id="line2d_19">
<g>
<use href="#m25036831dc" x="81.72" y="90.36" style="stroke: #000000; stroke-width: 0.8"/>
<use href="#m25036831dc" x="81.72" y="91.08" opacity="0.0556"/>
<use href="#m25036831dc" x="81.72" y="89.64" opacity="0.0556"/>
</g>
</g>
<g id="text_19">
<g transform="translate(60.375 94.267426) scale(0.1 -0.1)">
<use href="#DejaVuSans-35" transform="translate(8.55 0.9) scale(1 0.97)"/>
<use href="#DejaVuSans-30" transform="translate(63.623 0) scale(1 0.97)"/>
</g>
</g>
</g>
<g id="ytick_8">
<g id="line2d_20">
<g>
<use href="#m25036831dc" x="81.72" y="50.76" style="stroke: #000000; stroke-width: 0.8"/>
<use href="#m25036831dc" x="81.72" y="51.48" opacity="0.0556"/>
<use href="#m25036831dc" x="81.72" y="50.04" opacity="0.0556"/>
</g>
</g>
<g id="text_20">
<g transform="translate(54.7325 53.917298) scale(0.1 -0.1)">
<use href="#DejaVuSans-31" transform="translate(7.65 0) scale(1 0.9775)"/>
<use href="#DejaVuSans-30" transform="translate(63.173 1.35) scale(1 0.9325)"/>
<use href="#DejaVuSans-30" transform="translate(126.3461 -0.225) scale(1 0.9738)"/>
</g>
</g>
</g>
</g>
<g id="line2d_21">
<path d="M 81.72 280.44 L 583.56 280.44" clip-path="url(#p42fd4cc68e)" style="fill: none; stroke: #000000; stroke-opacity: 0.2; stroke-width: 0.72; stroke-linecap: square"/>
<path d="M 81.72 281.16 L 583.56 281.16" clip-path="url(#p42fd4cc68e)" style="fill: none; stroke: #000000; stroke-width: 0.72; stroke-linecap: square; stroke-opacity: 0.01112"/>
<path d="M 81.72 279.72 L 583.56 279.72" clip-path="url(#p42fd4cc68e)" style="fill: none; stroke: #000000; stroke-width: 0.72; stroke-linecap: square; stroke-opacity: 0.01112"/>
</g>
<g id="line2d_22">
<path d="M 81.72 180.36 L 583.56 180.36" clip-path="url(#p42fd4cc68e)" style="fill: none; stroke: #000000; stroke-opacity: 0.2; stroke-width: 0.72; stroke-linecap: square"/>
<path d="M 81.72 181.08 L 583.56 181.08" clip-path="url(#p42fd4cc68e)" style="fill: none; stroke: #000000; stroke-width: 0.72; stroke-linecap: square; stroke-opacity: 0.01112"/>
<path d="M 81.72 179.64 L 583.56 179.64" clip-path="url(#p42fd4cc68e)" style="fill: none; stroke: #000000; stroke-width: 0.72; stroke-linecap: square; stroke-opacity: 0.01112"/>
</g>
<g id="line2d_23">
<path d="M 81.72 50.76 L 583.56 50.76" clip-path="url(#p42fd4cc68e)" style="fill: none; stroke: #000000; stroke-opacity: 0.2; stroke-width: 0.72; stroke-linecap: square"/>
<path d="M 81.72 51.48 L 583.56 51.48" clip-path="url(#p42fd4cc68e)" style="fill: none; stroke: #000000; stroke-width: 0.72; stroke-linecap: square; stroke-opacity: 0.01112"/>
<path d="M 81.72 50.04 L 583.56 50.04" clip-path="url(#p42fd4cc68e)" style="fill: none; stroke: #000000; stroke-width: 0.72; stroke-linecap: square; stroke-opacity: 0.01112"/>
</g>
<g id="line2d_24">
<path d="M 81.72 256.68 L 583.56 256.68" clip-path="url(#p42fd4cc68e)" style="fill: none; stroke: #000000; stroke-opacity: 0.06; stroke-width: 0.72; stroke-linecap: square"/>
<path d="M 81.72 257.4 L 583.56 257.4" clip-path="url(#p42fd4cc68e)" style="fill: none; stroke: #000000; stroke-width: 0.72; stroke-linecap: square; stroke-opacity: 0.003336"/>
<path d="M 81.72 255.96 L 583.56 255.96" clip-path="url(#p42fd4cc68e)" style="fill: none; stroke: #000000; stroke-width: 0.72; stroke-linecap: square; stroke-opacity: 0.003336"/>
</g>
<g id="line2d_25">
<path d="M 81.72 239.4 L 583.56 239.4" clip-path="url(#p42fd4cc68e)" style="fill: none; stroke: #000000; stroke-opacity: 0.06; stroke-width: 0.72; stroke-linecap: square"/>
<path d="M 81.72 240.12 L 583.56 240.12" clip-path="url(#p42fd4cc68e)" style="fill: none; stroke: #000000; stroke-width: 0.72; stroke-linecap: square; stroke-opacity: 0.003336"/>
<path d="M 81.72 238.68 L 583.56 238.68" clip-path="url(#p42fd4cc68e)" style="fill: none; stroke: #000000; stroke-width: 0.72; stroke-linecap: square; stroke-opacity: 0.003336"/>
</g>
<g id="line2d_26">
<path d="M 81.72 226.44 L 583.56 226.44" clip-path="url(#p42fd4cc68e)" style="fill: none; stroke: #000000; stroke-opacity: 0.06; stroke-width: 0.72; stroke-linecap: square"/>
<path d="M 81.72 227.16 L 583.56 227.16" clip-path="url(#p42fd4cc68e)" style="fill: none; stroke: #000000; stroke-width: 0.72; stroke-linecap: square; stroke-opacity: 0.003336"/>
<path d="M 81.72 225.72 L 583.56 225.72" clip-path="url(#p42fd4cc68e)" style="fill: none; stroke: #000000; stroke-width: 0.72; stroke-linecap: square; stroke-opacity: 0.003336"/>
</g>
<g id="line2d_27">
<path d="M 81.72 215.64 L 583.56 215.64" clip-path="url(#p42fd4cc68e)" style="fill: none; stroke: #000000; stroke-opacity: 0.06; stroke-width: 0.72; stroke-linecap: square"/>
<path d="M 81.72 216.36 L 583.56 216.36" clip-path="url(#p42fd4cc68e)" style="fill: none; stroke: #000000; stroke-width: 0.72; stroke-linecap: square; stroke-opacity: 0.003336"/>
<path d="M 81.72 214.92 L 583.56 214.92" clip-path="url(#p42fd4cc68e)" style="fill: none; stroke: #000000; stroke-width: 0.72; stroke-linecap: square; stroke-opacity: 0.003336"/>
</g>
<g id="line2d_28">
<path d="M 81.72 207 L 583.56 207" clip-path="url(#p42fd4cc68e)" style="fill: none; stroke: #000000; stroke-opacity: 0.06; stroke-width: 0.72; stroke-linecap: square"/>
<path d="M 81.72 207.72 L 583.56 207.72" clip-path="url(#p42fd4cc68e)" style="fill: none; stroke: #000000; stroke-width: 0.72; stroke-linecap: square; stroke-opacity: 0.003336"/>
<path d="M 81.72 206.28 L 583.56 206.28" clip-path="url(#p42fd4cc68e)" style="fill: none; stroke: #000000; stroke-width: 0.72; stroke-linecap: square; stroke-opacity: 0.003336"/>
</g>
<g id="line2d_29">
<path d="M 81.72 199.08 L 583.56 199.08" clip-path="url(#p42fd4cc68e)" style="fill: none; stroke: #000000; stroke-opacity: 0.06; stroke-width: 0.72; stroke-linecap: square"/>
<path d="M 81.72 199.8 L 583.56 199.8" clip-path="url(#p42fd4cc68e)" style="fill: none; stroke: #000000; stroke-width: 0.72; stroke-linecap: square; stroke-opacity: 0.003336"/>
<path d="M 81.72 198.36 L 583.56 198.36" clip-path="url(#p42fd4cc68e)" style="fill: none; stroke: #000000; stroke-width: 0.72; stroke-linecap: square; stroke-opacity: 0.003336"/>
</g>
<g id="line2d_30">
<path d="M 81.72 191.88 L 583.56 191.88" clip-path="url(#p42fd4cc68e)" style="fill: none; stroke: #000000; stroke-opacity: 0.06; stroke-width: 0.72; stroke-linecap: square"/>
<path d="M 81.72 192.6 L 583.56 192.6" clip-path="url(#p42fd4cc68e)" style="fill: none; stroke: #000000; stroke-width: 0.72; stroke-linecap: square; stroke-opacity: 0.003336"/>
<path d="M 81.72 191.16 L 583.56 191.16" clip-path="url(#p42fd4cc68e)" style="fill: none; stroke: #000000; stroke-width: 0.72; stroke-linecap: square; stroke-opacity: 0.003336"/>
</g>
<g id="line2d_31">
<path d="M 81.72 186.12 L 583.56 186.12" clip-path="url(#p42fd4cc68e)" style="fill: none; stroke: #000000; stroke-opacity: 0.06; stroke-width: 0.72; stroke-linecap: square"/>
<path d="M 81.72 186.84 L 583.56 186.84" clip-path="url(#p42fd4cc68e)" style="fill: none; stroke: #000000; stroke-width: 0.72; stroke-linecap: square; stroke-opacity: 0.003336"/>
<path d="M 81.72 185.4 L 583.56 185.4" clip-path="url(#p42fd4cc68e)" style="fill: none; stroke: #000000; stroke-width: 0.72; stroke-linecap: square; stroke-opacity: 0.003336"/>
</g>
<g id="line2d_32">
<path d="M 81.72 142.92 L 583.56 142.92" clip-path="url(#p42fd4cc68e)" style="fill: none; stroke: #000000; stroke-opacity: 0.06; stroke-width: 0.72; stroke-linecap: square"/>
<path d="M 81.72 143.64 L 583.56 143.64" clip-path="url(#p42fd4cc68e)" style="fill: none; stroke: #000000; stroke-width: 0.72; stroke-linecap: square; stroke-opacity: 0.003336"/>
<path d="M 81.72 142.2 L 583.56 142.2" clip-path="url(#p42fd4cc68e)" style="fill: none; stroke: #000000; stroke-width: 0.72; stroke-linecap: square; stroke-opacity: 0.003336"/>
</g>
<g id="line2d_33">
<path d="M 81.72 119.88 L 583.56 119.88" clip-path="url(#p42fd4cc68e)" style="fill: none; stroke: #000000; stroke-opacity: 0.06; stroke-width: 0.72; stroke-linecap: square"/>
<path d="M 81.72 120.6 L 583.56 120.6" clip-path="url(#p42fd4cc68e)" style="fill: none; stroke: #000000; stroke-width: 0.72; stroke-linecap: square; stroke-opacity: 0.003336"/>
<path d="M 81.72 119.16 L 583.56 119.16" clip-path="url(#p42fd4cc68e)" style="fill: none; stroke: #000000; stroke-width: 0.72; stroke-linecap: square; stroke-opacity: 0.003336"/>
</g>
<g id="line2d_34">
<path d="M 81.72 103.32 L 583.56 103.32" clip-path="url(#p42fd4cc68e)" style="fill: none; stroke: #000000; stroke-opacity: 0.06; stroke-width: 0.72; stroke-linecap: square"/>
<path d="M 81.72 104.04 L 583.56 104.04" clip-path="url(#p42fd4cc68e)" style="fill: none; stroke: #000000; stroke-width: 0.72; stroke-linecap: square; stroke-opacity: 0.003336"/>
<path d="M 81.72 102.6 L 583.56 102.6" clip-path="url(#p42fd4cc68e)" style="fill: none; stroke: #000000; stroke-width: 0.72; stroke-linecap: square; stroke-opacity: 0.003336"/>
</g>
<g id="line2d_35">
<path d="M 81.72 90.36 L 583.56 90.36" clip-path="url(#p42fd4cc68e)" style="fill: none; stroke: #000000; stroke-opacity: 0.06; stroke-width: 0.72; stroke-linecap: square"/>
<path d="M 81.72 91.08 L 583.56 91.08" clip-path="url(#p42fd4cc68e)" style="fill: none; stroke: #000000; stroke-width: 0.72; stroke-linecap: square; stroke-opacity: 0.003336"/>
<path d="M 81.72 89.64 L 583.56 89.64" clip-path="url(#p42fd4cc68e)" style="fill: none; stroke: #000000; stroke-width: 0.72; stroke-linecap: square; stroke-opacity: 0.003336"/>
</g>
<g id="line2d_36">
<path d="M 81.72 80.28 L 583.56 80.28" clip-path="url(#p42fd4cc68e)" style="fill: none; stroke: #000000; stroke-opacity: 0.06; stroke-width: 0.72; stroke-linecap: square"/>
<path d="M 81.72 81 L 583.56 81" clip-path="url(#p42fd4cc68e)" style="fill: none; stroke: #000000; stroke-width: 0.72; stroke-linecap: square; stroke-opacity: 0.003336"/>
<path d="M 81.72 79.56 L 583.56 79.56" clip-path="url(#p42fd4cc68e)" style="fill: none; stroke: #000000; stroke-width: 0.72; stroke-linecap: square; stroke-opacity: 0.003336"/>
</g>
<g id="line2d_37">
<path d="M 81.72 71.64 L 583.56 71.64" clip-path="url(#p42fd4cc68e)" style="fill: none; stroke: #000000; stroke-opacity: 0.06; stroke-width: 0.72; stroke-linecap: square"/>
<path d="M 81.72 72.36 L 583.56 72.36" clip-path="url(#p42fd4cc68e)" style="fill: none; stroke: #000000; stroke-width: 0.72; stroke-linecap: square; stroke-opacity: 0.003336"/>
<path d="M 81.72 70.92 L 583.56 70.92" clip-path="url(#p42fd4cc68e)" style="fill: none; stroke: #000000; stroke-width: 0.72; stroke-linecap: square; stroke-opacity: 0.003336"/>
</g>
<g id="line2d_38">
<path d="M 81.72 63.72 L 583.56 63.72" clip-path="url(#p42fd4cc68e)" style="fill: none; stroke: #000000; stroke-opacity: 0.06; stroke-width: 0.72; stroke-linecap: square"/>
<path d="M 81.72 64.44 L 583.56 64.44" clip-path="url(#p42fd4cc68e)" style="fill: none; stroke: #000000; stroke-width: 0.72; stroke-linecap: square; stroke-opacity: 0.003336"/>
<path d="M 81.72 63 L 583.56 63" clip-path="url(#p42fd4cc68e)" style="fill: none; stroke: #000000; stroke-width: 0.72; stroke-linecap: square; stroke-opacity: 0.003336"/>
</g>
<g id="line2d_39">
<path d="M 81.72 56.52 L 583.56 56.52" clip-path="url(#p42fd4cc68e)" style="fill: none; stroke: #000000; stroke-opacity: 0.06; stroke-width: 0.72; stroke-linecap: square"/>
<path d="M 81.72 57.24 L 583.56 57.24" clip-path="url(#p42fd4cc68e)" style="fill: none; stroke: #000000; stroke-width: 0.72; stroke-linecap: square; stroke-opacity: 0.003336"/>
<path d="M 81.72 55.8 L 583.56 55.8" clip-path="url(#p42fd4cc68e)" style="fill: none; stroke: #000000; stroke-width: 0.72; stroke-linecap: square; stroke-opacity: 0.003336"/>
</g>
<g id="patch_27">
<path d="M 81.72 320.76 L 81.72 43.56" style="fill: none; stroke: #000000; stroke-width: 0.72; stroke-linejoin: miter; stroke-linecap: square"/>
<path d="M 82.44 320.76 L 82.44 43.56" style="fill: none; stroke: #000000; stroke-width: 0.72; stroke-linejoin: miter; stroke-linecap: square; stroke-opacity: 0.0556"/>
<path d="M 81 320.76 L 81 43.56" style="fill: none; stroke: #000000; stroke-width: 0.72; stroke-linejoin: miter; stroke-linecap: square; stroke-opacity: 0.0556"/>
</g>
<g id="patch_28">
<path d="M 583.56 320.76 L 583.56 43.56" style="fill: none; stroke: #000000; stroke-width: 0.72; stroke-linejoin: miter; stroke-linecap: square"/>
<path d="M 584.28 320.76 L 584.28 43.56" style="fill: none; stroke: #000000; stroke-width: 0.72; stroke-linejoin: miter; stroke-linecap: square; stroke-opacity: 0.0556"/>
<path d="M 582.84 320.76 L 582.84 43.56" style="fill: none; stroke: #000000; stroke-width: 0.72; stroke-linejoin: miter; stroke-linecap: square; stroke-opacity: 0.0556"/>
</g>
<g id="patch_29">
<path d="M 81.72 320.76 L 583.56 320.76" style="fill: none; stroke: #000000; stroke-width: 0.72; stroke-linejoin: miter; stroke-linecap: square"/>
<path d="M 81.72 321.48 L 583.56 321.48" style="fill: none; stroke: #000000; stroke-width: 0.72; stroke-linejoin: miter; stroke-linecap: square; stroke-opacity: 0.0556"/>
<path d="M 81.72 320.04 L 583.56 320.04" style="fill: none; stroke: #000000; stroke-width: 0.72; stroke-linejoin: miter; stroke-linecap: square; stroke-opacity: 0.0556"/>
</g>
<g id="patch_30">
<path d="M 81.72 43.56 L 583.56 43.56" style="fill: none; stroke: #000000; stroke-width: 0.72; stroke-linejoin: miter; stroke-linecap: square"/>
<path d="M 81.72 44.28 L 583.56 44.28" style="fill: none; stroke: #000000; stroke-width: 0.72; stroke-linejoin: miter; stroke-linecap: square; stroke-opacity: 0.0556"/>
<path d="M 81.72 42.84 L 583.56 42.84" style="fill: none; stroke: #000000; stroke-width: 0.72; stroke-linejoin: miter; stroke-linecap: square; stroke-opacity: 0.0556"/>
</g>
<g id="text_21">
<g transform="translate(263.3625 37.02) scale(0.12 -0.12)">
<defs>
<path id="DejaVuSans-73" d="M 2834 3397 
L 2834 2853 
Q 2591 2978 2328 3040 
Q 2066 3103 1784 3103 
Q 1356 3103 1142 2972 
Q 928 2841 928 2578 
Q 928 2378 1081 2264 
Q 1234 2150 1697 2047 
L 1894 2003 
Q 2506 1872 2764 1633 
Q 3022 1394 3022 966 
Q 3022 478 2636 193 
Q 2250 -91 1575 -91 
Q 1294 -91 989 -36 
Q 684 19 347 128 
L 347 722 
Q 666 556 975 473 
Q 1284 391 1588 391 
Q 1994 391 2212 530 
Q 2431 669 2431 922 
Q 2431 1156 2273 1281 
Q 2116 1406 1581 1522 
L 1381 1569 
Q 847 1681 609 1914 
Q 372 2147 372 2553 
Q 372 3047 722 3315 
Q 1072 3584 1716 3584 
Q 2034 3584 2315 3537 
Q 2597 3491 2834 3397 
z
" transform="scale(0.015625)"/>
<path id="DejaVuSans-43" d="M 4122 4306 
L 4122 3641 
Q 3803 3938 3442 4084 
Q 3081 4231 2675 4231 
Q 1875 4231 1450 3742 
Q 1025 3253 1025 2328 
Q 1025 1406 1450 917 
Q 1875 428 2675 428 
Q 3081 428 3442 575 
Q 3803 722 4122 1019 
L 4122 359 
Q 3791 134 3420 21 
Q 3050 -91 2638 -91 
Q 1578 -91 968 557 
Q 359 1206 359 2328 
Q 359 3453 968 4101 
Q 1578 4750 2638 4750 
Q 3056 4750 3426 4639 
Q 3797 4528 4122 4306 
z
" transform="scale(0.015625)"/>
<path id="DejaVuSans-55" d="M 556 4666 
L 1191 4666 
L 1191 1831 
Q 1191 1081 1462 751 
Q 1734 422 2344 422 
Q 2950 422 3222 751 
Q 3494 1081 3494 1831 
L 3494 4666 
L 4128 4666 
L 4128 1753 
Q 4128 841 3676 375 
Q 3225 -91 2344 -91 
Q 1459 -91 1007 375 
Q 556 841 556 1753 
L 556 4666 
z
" transform="scale(0.015625)"/>
<path id="DejaVuSans-50" d="M 1259 4147 
L 1259 2394 
L 2053 2394 
Q 2494 2394 2734 2622 
Q 2975 2850 2975 3272 
Q 2975 3691 2734 3919 
Q 2494 4147 2053 4147 
L 1259 4147 
z
M 628 4666 
L 2053 4666 
Q 2838 4666 3239 4311 
Q 3641 3956 3641 3272 
Q 3641 2581 3239 2228 
Q 2838 1875 2053 1875 
L 1259 1875 
L 1259 0 
L 628 0 
L 628 4666 
z
" transform="scale(0.015625)"/>
<path id="DejaVuSans-20" transform="scale(0.015625)"/>
</defs>
<use href="#DejaVuSans-62" transform="translate(1.3125 -3) scale(1 1.075)"/>
<use href="#DejaVuSans-72" transform="translate(64.4141 -2.8125) scale(1 1.0713)"/>
<use href="#DejaVuSans-65" transform="translate(102.9023 -2.0625) scale(1 1.0562)"/>
<use href="#DejaVuSans-61" transform="translate(164.6133 -1.875) scale(1 1.045)"/>
<use href="#DejaVuSans-73" transform="translate(225.5176 -1.5) scale(1 1.0375)"/>
<use href="#DejaVuSans-74" transform="translate(278.1797 -4.125) scale(1 1.1013)"/>
<use href="#DejaVuSans-43" transform="translate(316.4512 -2.25) scale(1 1.0413)"/>
<use href="#DejaVuSans-61" transform="translate(385.9004 -1.875) scale(1 1.045)"/>
<use href="#DejaVuSans-6e" transform="translate(446.8047 -3) scale(1 1.075)"/>
<use href="#DejaVuSans-63" transform="translate(509.6211 -1.875) scale(1 1.0412)"/>
<use href="#DejaVuSans-65" transform="translate(564.2266 -2.0625) scale(1 1.0563)"/>
<use href="#DejaVuSans-72" transform="translate(626.125 -2.8125) scale(1 1.0713)"/>
<use href="#DejaVuSans-55" transform="translate(667.4258 -2.0625) scale(1 1.06)"/>
<use href="#DejaVuSans-50" transform="translate(740.8066 1.5) scale(1 1.0075)"/>
<use href="#DejaVuSans-50" transform="translate(801.4844 1.6875) scale(1 1.0038)"/>
<use href="#DejaVuSans-20" transform="translate(862.3496 0)"/>
<use href="#DejaVuSans-32" transform="translate(894.1367 -2.8125) scale(1 1.0487)"/>
<use href="#DejaVuSans-30" transform="translate(957.5723 -2.4375) scale(1 1.0413)"/>
<use href="#DejaVuSans-31" transform="translate(1020.8203 -2.8125) scale(1 1.06)"/>
<use href="#DejaVuSans-37" transform="translate(1084.6309 -1.5) scale(1 1.0525)"/>
</g>
</g>
<g id="legend_1">
<g id="patch_31">
<path d="M 274.43 315.76 L 390.13 315.76 Q 392.13 315.76 392.13 313.76 L 392.13 284.6 Q 392.13 282.6 390.13 282.6 L 274.43 282.6 Q 272.43 282.6 272.43 284.6 L 272.43 313.76 Q 272.43 315.76 274.43 315.76 z" style="fill: #ffffff; opacity: 0.8; stroke: #cccccc; stroke-linejoin: miter"/>
</g>
<g id="patch_32">
<path d="M 276.48 294.48 L 295.92 294.48 L 295.92 287.28 L 276.48 287.28 z" style="fill: #0000ff; opacity: 0.33"/>
</g>
<g id="text_22">
<g transform="translate(304.556094 294.282187) scale(0.1 -0.1)">
<defs>
<path id="DejaVuSans-66" d="M 2375 4863 
L 2375 4384 
L 1825 4384 
Q 1516 4384 1395 4259 
Q 1275 4134 1275 3809 
L 1275 3500 
L 2222 3500 
L 2222 3053 
L 1275 3053 
L 1275 0 
L 697 0 
L 697 3053 
L 147 3053 
L 147 3500 
L 697 3500 
L 697 3744 
Q 697 4328 969 4595 
Q 1241 4863 1831 4863 
L 2375 4863 
z
" transform="scale(0.015625)"/>
<path id="DejaVuSans-64" d="M 2906 2969 
L 2906 4863 
L 3481 4863 
L 3481 0 
L 2906 0 
L 2906 525 
Q 2725 213 2448 61 
Q 2172 -91 1784 -91 
Q 1150 -91 751 415 
Q 353 922 353 1747 
Q 353 2572 751 3078 
Q 1150 3584 1784 3584 
Q 2172 3584 2448 3432 
Q 2725 3281 2906 2969 
z
M 947 1747 
Q 947 1113 1208 752 
Q 1469 391 1925 391 
Q 2381 391 2643 752 
Q 2906 1113 2906 1747 
Q 2906 2381 2643 2742 
Q 2381 3103 1925 3103 
Q 1469 3103 1208 2742 
Q 947 2381 947 1747 
z
" transform="scale(0.015625)"/>
<path id="DejaVuSans-69" d="M 603 3500 
L 1178 3500 
L 1178 0 
L 603 0 
L 603 3500 
z
M 603 4863 
L 1178 4863 
L 1178 4134 
L 603 4134 
L 603 4863 
z
" transform="scale(0.015625)"/>
<path id="DejaVuSans-49" d="M 628 4666 
L 1259 4666 
L 1259 0 
L 628 0 
L 628 4666 
z
" transform="scale(0.015625)"/>
</defs>
<use href="#DejaVuSans-4e" transform="translate(0 -1.8) scale(1 0.985)"/>
<use href="#DejaVuSans-62" transform="translate(74.8047 -1.35) scale(1 1.0225)"/>
<use href="#DejaVuSans-20" transform="translate(138.2812 0)"/>
<use href="#DejaVuSans-6f" transform="translate(169.8434 -1.125) scale(1 1.0075)"/>
<use href="#DejaVuSans-66" transform="translate(231.7 -2.25) scale(1 1.045)"/>
<use href="#DejaVuSans-20" transform="translate(266.4551 0)"/>
<use href="#DejaVuSans-64" transform="translate(298.9172 -1.125) scale(1 1.0225)"/>
<use href="#DejaVuSans-69" transform="translate(362.3938 -1.35) scale(1 1.0375)"/>
<use href="#DejaVuSans-73" transform="translate(390.177 0) scale(1 0.9925)"/>
<use href="#DejaVuSans-74" transform="translate(442.0516 -1.8) scale(1 1.0337)"/>
<use href="#DejaVuSans-69" transform="translate(481.2605 -1.35) scale(1 1.0375)"/>
<use href="#DejaVuSans-6e" transform="translate(509.4937 -1.35) scale(1 1.03)"/>
<use href="#DejaVuSans-63" transform="translate(572.4227 -0.45) scale(1 1.0075)"/>
<use href="#DejaVuSans-74" transform="translate(627.4031 -1.8) scale(1 1.0337)"/>
<use href="#DejaVuSans-20" transform="translate(666.1621 0)"/>
<use href="#DejaVuSans-49" transform="translate(698.1742 -1.125) scale(1 0.9662)"/>
<use href="#DejaVuSans-50" transform="translate(727.2164 -2.25) scale(1 0.9925)"/>
<use href="#DejaVuSans-73" transform="translate(785.3191 0) scale(1 0.9925)"/>
</g>
</g>
<g id="patch_33">
<path d="M 276.48 309.6 L 295.92 309.6 L 295.92 302.4 L 276.48 302.4 z" style="fill: #0000ff; opacity: 0.1373"/>
</g>
<g id="text_23">
<g transform="translate(304.556094 309.500312) scale(0.1 -0.1)">
<defs>
<path id="DejaVuSans-77" d="M 269 3500 
L 844 3500 
L 1563 769 
L 2278 3500 
L 2956 3500 
L 3675 769 
L 4391 3500 
L 4966 3500 
L 4050 0 
L 3372 0 
L 2619 2869 
L 1863 0 
L 1184 0 
L 269 3500 
z
" transform="scale(0.015625)"/>
</defs>
<use href="#DejaVuSans-4e" transform="translate(0 -0.9) scale(1 0.985)"/>
<use href="#DejaVuSans-62" transform="translate(74.8047 -0.9) scale(1 1.03)"/>
<use href="#DejaVuSans-20" transform="translate(138.2812 0)"/>
<use href="#DejaVuSans-6f" transform="translate(169.8434 0.675) scale(1 0.9888)"/>
<use href="#DejaVuSans-66" transform="translate(231.7 -0.225) scale(1 1.03)"/>
<use href="#DejaVuSans-20" transform="translate(266.4551 0)"/>
<use href="#DejaVuSans-64" transform="translate(298.9172 -0.225) scale(1 1.0225)"/>
<use href="#DejaVuSans-6f" transform="translate(362.6187 0.675) scale(1 0.9888)"/>
<use href="#DejaVuSans-77" transform="translate(424.0254 -0.45) scale(1 1.0375)"/>
<use href="#DejaVuSans-6e" transform="translate(505.8125 -1.8) scale(1 1.0525)"/>
<use href="#DejaVuSans-6c" transform="translate(568.9664 -0.9) scale(1 1.03)"/>
<use href="#DejaVuSans-6f" transform="translate(596.5246 0.675) scale(1 0.9888)"/>
<use href="#DejaVuSans-61" transform="translate(658.3813 -0.45) scale(1 1.015)"/>
<use href="#DejaVuSans-64" transform="translate(720.1105 -0.9) scale(1 1.03)"/>
<use href="#DejaVuSans-73" transform="translate(783.5871 0.9) scale(1 0.9887)"/>
</g>
</g>
</g>
</g>
</g>
<defs>
<clipPath id="p42fd4cc68e">
<rect x="81.36" y="43.2" width="501.84" height="277.2"/>
</clipPath>
</defs>
</svg>

</body></html>
